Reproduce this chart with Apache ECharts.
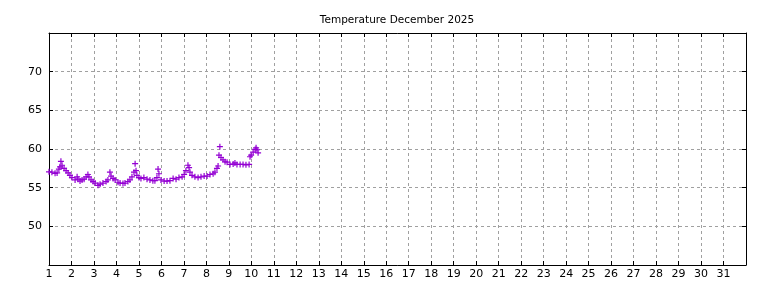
<!DOCTYPE html>
<html>
<head>
<meta charset="utf-8">
<script src="https://cdn.jsdelivr.net/npm/echarts@6/dist/echarts.min.js"></script>
<style>
  html, body { margin: 0; padding: 0; background: #fff; }
  #chart { width: 768px; height: 288px; }
</style>
</head>
<body>
<div id="chart"></div>
<script>
const titleText = 'Temperature December 2025'

// day of month (fractional) and temperature readings
const days = [
  1.00, 1.13, 1.27, 1.36, 1.44, 1.49, 1.53, 1.58, 1.67, 1.76,
  1.85, 1.93, 2.02, 2.16, 2.25, 2.29, 2.38, 2.47, 2.56, 2.65,
  2.73, 2.78, 2.87, 2.96, 3.05, 3.18, 3.27, 3.40, 3.54, 3.62,
  3.71, 3.76, 3.85, 3.94, 4.07, 4.16, 4.29, 4.38, 4.51, 4.60,
  4.69, 4.78, 4.83, 4.87, 4.91, 5.00, 5.09, 5.22, 5.36, 5.49,
  5.62, 5.71, 5.80, 5.85, 5.89, 5.98, 6.12, 6.25, 6.38, 6.52,
  6.65, 6.78, 6.92, 7.01, 7.09, 7.18, 7.23, 7.27, 7.36, 7.49,
  7.63, 7.76, 7.90, 8.03, 8.16, 8.30, 8.38, 8.47, 8.52, 8.56,
  8.60, 8.65, 8.74, 8.83, 8.92, 9.05, 9.19, 9.27, 9.36, 9.50,
  9.63, 9.76, 9.90, 9.94, 9.99, 10.08, 10.17, 10.21, 10.25, 10.30
]
const temps = [
  57.05, 57.0, 56.85, 56.9, 57.4, 57.7, 58.4, 57.9, 57.5, 57.2,
  56.9, 56.6, 56.3, 56.0, 56.4, 56.1, 55.85, 56.0, 56.1, 56.4,
  56.7, 56.4, 56.0, 55.8, 55.6, 55.3, 55.45, 55.6, 55.8, 56.0,
  57.0, 56.5, 56.2, 56.0, 55.7, 55.6, 55.55, 55.6, 55.8, 56.0,
  56.4, 57.0, 58.1, 57.2, 56.6, 56.3, 56.2, 56.3, 56.1, 56.0,
  55.9, 55.9, 56.3, 57.4, 56.8, 56.0, 55.85, 55.85, 55.9, 56.2,
  56.1, 56.3, 56.4, 56.7, 57.2, 57.9, 57.6, 57.0, 56.6, 56.4,
  56.3, 56.4, 56.5, 56.5, 56.7, 56.8, 57.0, 57.5, 57.8, 59.2,
  60.3, 58.9, 58.6, 58.35, 58.3, 58.0, 58.05, 58.2, 58.0, 58.0,
  58.0, 57.95, 58.0, 59.0, 59.2, 59.6, 59.95, 60.15, 59.9, 59.5
]

const xMin = 1
const xMax = 32
const yMin = 45
const yMax = 75
const yLabels = [50, 55, 60, 65, 70]

const font = 'DejaVu Sans'
const gridLine = { show: true, lineStyle: { color: '#a0a0a0', type: [3, 3], width: 1 } }
const border = { show: true, onZero: false, lineStyle: { color: '#000', width: 1 } }
const ticks = { show: true, inside: true, length: 4, lineStyle: { color: '#000' } }

const chart = echarts.init(document.getElementById('chart'), null, { renderer: 'canvas' })

chart.setOption({
  animation: false,
  backgroundColor: '#fff',
  title: {
    text: titleText,
    left: 392,
    top: 10,
    textAlign: 'center',
    textStyle: { fontFamily: font, fontSize: 10.5, fontWeight: 'normal', color: '#000' }
  },
  grid: { left: 49, right: 22, top: 33, bottom: 23, containLabel: false },
  xAxis: [
    {
      type: 'value',
      position: 'bottom',
      min: xMin,
      max: xMax,
      interval: 1,
      axisLine: border,
      axisTick: ticks,
      splitLine: gridLine,
      axisLabel: {
        fontFamily: font,
        fontSize: 11,
        color: '#000',
        margin: 4,
        showMaxLabel: false,
        formatter: v => (v <= 31 ? String(v) : '')
      }
    },
    {
      type: 'value',
      position: 'top',
      min: xMin,
      max: xMax,
      interval: 1,
      axisLine: border,
      axisTick: ticks,
      splitLine: { show: false },
      axisLabel: { show: false }
    }
  ],
  yAxis: [
    {
      type: 'value',
      position: 'left',
      min: yMin,
      max: yMax,
      interval: 5,
      axisLine: border,
      axisTick: ticks,
      splitLine: gridLine,
      axisLabel: {
        fontFamily: font,
        fontSize: 11,
        color: '#000',
        margin: 7,
        formatter: v => (yLabels.includes(v) ? String(v) : '')
      }
    },
    {
      type: 'value',
      position: 'right',
      min: yMin,
      max: yMax,
      interval: 5,
      axisLine: border,
      axisTick: ticks,
      splitLine: { show: false },
      axisLabel: { show: false }
    }
  ],
  series: [
    {
      type: 'scatter',
      data: days.map((d, i) => [d, temps[i]]),
      // gnuplot style "+" point
      symbol: 'path://M0,2H2V0H3V2H5V3H3V5H2V3H0Z',
      symbolSize: 6,
      itemStyle: { color: '#9400d3', opacity: 1 }
    }
  ]
})
</script>
</body>
</html>
